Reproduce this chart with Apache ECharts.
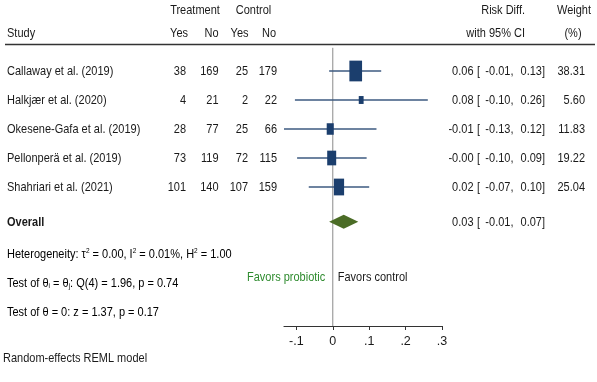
<!DOCTYPE html>
<html>
<head>
<meta charset="utf-8">
<script src="https://cdn.jsdelivr.net/npm/echarts@6/dist/echarts.min.js"></script>
<style>
html,body{margin:0;padding:0;background:#fff;}
#c{width:597px;height:382px;}
</style>
</head>
<body>
<div id="c"></div>
<script>
// ---------- data ----------
var studies = ['Callaway et al. (2019)', 'Halkjær et al. (2020)', 'Okesene-Gafa et al. (2019)', 'Pellonperä et al. (2019)', 'Shahriari et al. (2021)'];
var trtYes = [38, 4, 28, 73, 101];
var trtNo = [169, 21, 77, 119, 140];
var ctlYes = [25, 2, 25, 72, 107];
var ctlNo = [179, 22, 66, 115, 159];
var effect = [0.063, 0.078, -0.007, -0.003, 0.017];
var ciLow = [-0.010, -0.104, -0.134, -0.098, -0.066];
var ciHigh = [0.133, 0.261, 0.120, 0.093, 0.100];
var weights = [38.31, 5.60, 11.83, 19.22, 25.04];
var overall = [0.030, -0.010, 0.070]; // estimate, low, high
var tau2 = '0.00', I2 = '0.01%', H2 = '1.00';
var Qdf = 4, Qval = '1.96', Qp = '0.74';
var zval = '1.37', zp = '0.17';
var tickValues = [-0.1, 0, 0.1, 0.2, 0.3];
var tickLabels = ['-.1', '0', '.1', '.2', '.3'];

// ---------- layout ----------
var FONT = '"Liberation Sans Narrow", "Liberation Sans", Arial, sans-serif';
var FS = 11;
var SY = 1.22;
var TXT = '#1a1a1a';
var rowPos = [1, 2, 3, 4, 5];
var overallRow = 6.2;
var hetRow = 7.25, q1Row = 8.27, q2Row = 9.27, favRow = 8.1;
var yMax = 9.793;

function f2(v) { return v.toFixed(2); }

var chart = echarts.init(document.getElementById('c'), null, {renderer: 'canvas'});

function txt(x, y, s, align, extra) {
  var st = {text: s, x: 0, y: 0, align: align || 'left', verticalAlign: 'middle', font: FS + 'px ' + FONT, fill: TXT};
  if (extra) for (var k in extra) st[k] = extra[k];
  return {type: 'text', x: x, y: y, scaleY: SY, style: st, silent: true};
}

var studyData = studies.map(function (s, i) { return [effect[i], rowPos[i], ciLow[i], ciHigh[i], weights[i], i]; });

var option = {
  animation: false,
  backgroundColor: '#fff',
  textStyle: {fontFamily: FONT},
  grid: [{left: 284, right: 155, top: 42, bottom: 56, containLabel: false}],
  xAxis: [{
    type: 'value', min: -0.134, max: 0.3, gridIndex: 0, position: 'bottom',
    splitLine: {show: false},
    axisLine: {show: true, onZero: false, lineStyle: {color: '#333', width: 1.2}},
    axisTick: {show: true, customValues: tickValues, length: 4, lineStyle: {color: '#333'}},
    axisLabel: {show: true, customValues: tickValues, margin: 9, color: TXT, fontSize: 12.5, fontFamily: FONT,
      formatter: function (v) { var i = tickValues.findIndex(function (t) { return Math.abs(t - v) < 1e-9; }); return i >= 0 ? tickLabels[i] : ''; }}
  }],
  yAxis: [{
    type: 'value', min: 0, max: yMax, inverse: true, gridIndex: 0,
    show: false, splitLine: {show: false}
  }],
  series: [
    { // zero line
      type: 'line', data: [[0, 0.2], [0, yMax]], symbol: 'none',
      lineStyle: {color: '#8a8a8a', width: 1}, silent: true, z: 1
    },
    { // studies: CI, box and text columns
      type: 'custom', clip: false, z: 3,
      data: studyData,
      renderItem: function (params, api) {
        var i = api.value(5);
        var c = api.coord([api.value(0), api.value(1)]);
        var lo = api.coord([api.value(2), api.value(1)]);
        var hi = api.coord([api.value(3), api.value(1)]);
        var w = Math.sqrt(api.value(4));
        var bw = 2.05 * w, bh = 3.35 * w;
        var y = c[1];
        var ty = y + 0.5;
        return {type: 'group', children: [
          {type: 'line', shape: {x1: lo[0], y1: y, x2: hi[0], y2: y}, style: {stroke: '#3d5a80', lineWidth: 1.6}},
          {type: 'rect', shape: {x: c[0] - bw / 2, y: y - bh / 2, width: bw, height: bh}, style: {fill: '#1b3e6d'}},
          txt(7, ty, studies[i], 'left'),
          txt(186, ty, String(trtYes[i]), 'right'),
          txt(218.5, ty, String(trtNo[i]), 'right'),
          txt(248, ty, String(ctlYes[i]), 'right'),
          txt(277, ty, String(ctlNo[i]), 'right'),
          txt(473.5, ty, f2(effect[i]), 'right'),
          txt(477, ty, '[', 'left'),
          txt(513.5, ty, f2(ciLow[i]) + ',', 'right'),
          txt(545, ty, f2(ciHigh[i]) + ']', 'right'),
          txt(585, ty, f2(weights[i]), 'right')
        ]};
      }
    },
    { // overall diamond
      type: 'custom', clip: false, z: 3,
      data: [[overall[0], overallRow, overall[1], overall[2]]],
      renderItem: function (params, api) {
        var c = api.coord([api.value(0), api.value(1)]);
        var lo = api.coord([api.value(2), api.value(1)]);
        var hi = api.coord([api.value(3), api.value(1)]);
        var h = 7;
        var y = c[1];
        var ty = y + 0.5;
        return {type: 'group', children: [
          {type: 'polygon', shape: {points: [[lo[0], y], [c[0], y - h], [hi[0], y], [c[0], y + h]]}, style: {fill: '#4b6c26'}},
          txt(7, ty, 'Overall', 'left', {font: 'bold ' + FS + 'px ' + FONT}),
          txt(473.5, ty, f2(overall[0]), 'right'),
          txt(477, ty, '[', 'left'),
          txt(513.5, ty, f2(overall[1]) + ',', 'right'),
          txt(545, ty, f2(overall[2]) + ']', 'right')
        ]};
      }
    },
    { // footnote statistics rows
      type: 'custom', clip: false, z: 3,
      data: [[0, hetRow, 0], [0, q1Row, 1], [0, q2Row, 2], [0, favRow, 3]],
      renderItem: function (params, api) {
        var k = api.value(2);
        var p = api.coord([api.value(0), api.value(1)]);
        var y = p[1] + 0.5;
        var rich = {
          n: {fontSize: FS, fontFamily: FONT, color: TXT, lineHeight: 13, verticalAlign: 'bottom'},
          sup: {fontSize: 6.5, fontFamily: FONT, color: TXT, lineHeight: 13, verticalAlign: 'top', padding: [1, 0, 0, 0]},
          sub: {fontSize: 6.5, fontFamily: FONT, color: TXT, lineHeight: 13, verticalAlign: 'bottom'}
        };
        var s;
        if (k === 0) s = '{n|Heterogeneity: τ}{sup|2}{n| = ' + tau2 + ', I}{sup|2}{n| = ' + I2 + ', H}{sup|2}{n| = ' + H2 + '}';
        else if (k === 1) s = '{n|Test of θ}{sub|i}{n| = θ}{sub|j}{n|: Q(' + Qdf + ') = ' + Qval + ', p = ' + Qp + '}';
        else if (k === 2) s = '{n|Test of θ = 0: z = ' + zval + ', p = ' + zp + '}';
        if (k < 3) {
          return {type: 'text', x: 7, y: y, scaleY: SY, style: {text: s, x: 0, y: 0, align: 'left', verticalAlign: 'middle', rich: rich}, silent: true};
        }
        return {type: 'group', children: [
          txt(p[0] - 7.5, y, 'Favors probiotic', 'right', {fill: '#2e8b2e'}),
          txt(p[0] + 5, y, 'Favors control', 'left')
        ]};
      }
    }
  ],
  graphic: [
    txt(195, 10, 'Treatment', 'center'),
    txt(253.5, 10, 'Control', 'center'),
    txt(525, 10, 'Risk Diff.', 'right'),
    txt(574, 10, 'Weight', 'center'),
    txt(7, 33, 'Study', 'left'),
    txt(188, 33, 'Yes', 'right'),
    txt(218.5, 33, 'No', 'right'),
    txt(248.5, 33, 'Yes', 'right'),
    txt(276, 33, 'No', 'right'),
    txt(525, 33, 'with 95% CI', 'right'),
    txt(573, 33, '(%)', 'center'),
    {type: 'line', shape: {x1: 5, y1: 44.5, x2: 595, y2: 44.5}, style: {stroke: '#333', lineWidth: 1.3}},
    txt(3, 358, 'Random-effects REML model', 'left')
  ]
};
chart.setOption(option);
</script>
</body>
</html>
